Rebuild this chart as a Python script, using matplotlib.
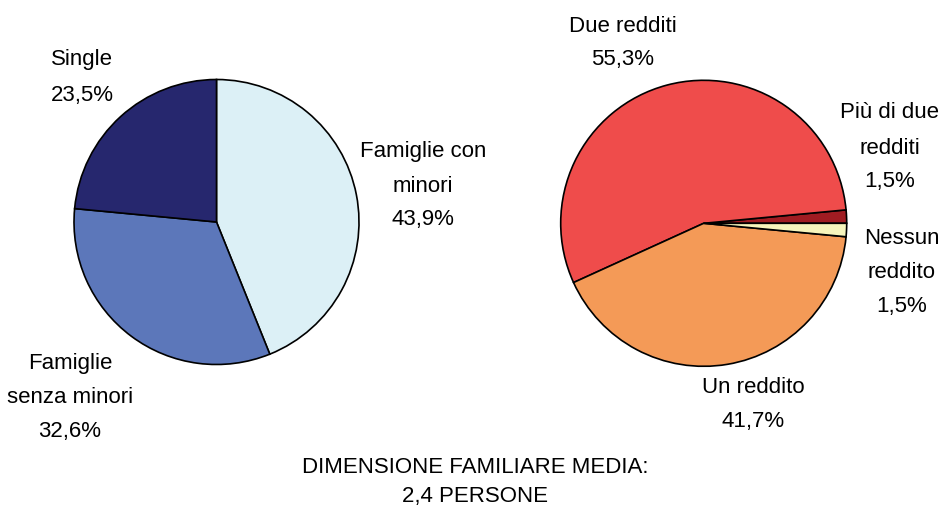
import matplotlib
matplotlib.use("Agg")
import matplotlib.pyplot as plt
from matplotlib import font_manager

# ---- data ----
left_labels = ["Famiglie con\nminori", "Famiglie\nsenza minori", "Single"]
left_values = [43.9, 32.6, 23.5]
left_colors = ["#DCF0F6", "#5C77BA", "#26276E"]

right_labels = ["Più di due\nredditi", "Due redditi", "Un reddito", "Nessun\nreddito"]
right_values = [1.5, 55.3, 41.7, 1.5]
right_colors = ["#A01C22", "#EF4C4B", "#F49A57", "#F7F5BC"]

footer = ["DIMENSIONE FAMILIARE MEDIA:", "2,4 PERSONE"]

# ---- font ----
names = {f.name for f in font_manager.fontManager.ttflist}
fam = "Liberation Sans Narrow" if "Liberation Sans Narrow" in names else "Liberation Sans"
FS = 18 if fam == "Liberation Sans Narrow" else 16
plt.rcParams["font.family"] = [fam, "DejaVu Sans"]

W, H = 945, 510
fig = plt.figure(figsize=(W / 100, H / 100), dpi=100)

def pie_axes(cx, cy, r):
    ax = fig.add_axes([(cx - r) / W, (H - cy - r) / H, 2 * r / W, 2 * r / H])
    ax.axis("off")
    return ax

def fix(ax):
    ax.set_xlim(-1, 1)
    ax.set_ylim(-1, 1)
    ax.set_aspect("equal")

wp = dict(edgecolor="black", linewidth=1.2)

ax1 = pie_axes(216.5, 223, 142.5)
ax1.pie(left_values, colors=left_colors, startangle=90, counterclock=False,
        radius=1, wedgeprops=wp)
fix(ax1)

ax2 = pie_axes(703.7, 224.3, 143)
ax2.pie(right_values, colors=right_colors, startangle=0, counterclock=True,
        radius=1, wedgeprops=wp)
fix(ax2)

def fmt(v):
    return f"{v:.1f}%".replace(".", ",")

def block(lines, x, ys):
    for line, y in zip(lines, ys):
        fig.text(x / W, 1 - y / H, line, ha="center", va="center", fontsize=FS)

# left labels
block(left_labels[0].split("\n") + [fmt(left_values[0])], 423, [152, 186, 219])
block(left_labels[1].split("\n") + [fmt(left_values[1])], 70, [363, 398, 432])
block(left_labels[2].split("\n") + [fmt(left_values[2])], 82, [60, 95])

# right labels
block(right_labels[1].split("\n") + [fmt(right_values[1])], 623, [26, 60])
block(right_labels[0].split("\n") + [fmt(right_values[0])], 890, [113, 148, 182])
block(right_labels[3].split("\n") + [fmt(right_values[3])], 902, [239, 273, 307])
block(right_labels[2].split("\n") + [fmt(right_values[2])], 753, [388, 422])

block(footer, 475, [468, 497])

fig.savefig("out.png", dpi=100)
